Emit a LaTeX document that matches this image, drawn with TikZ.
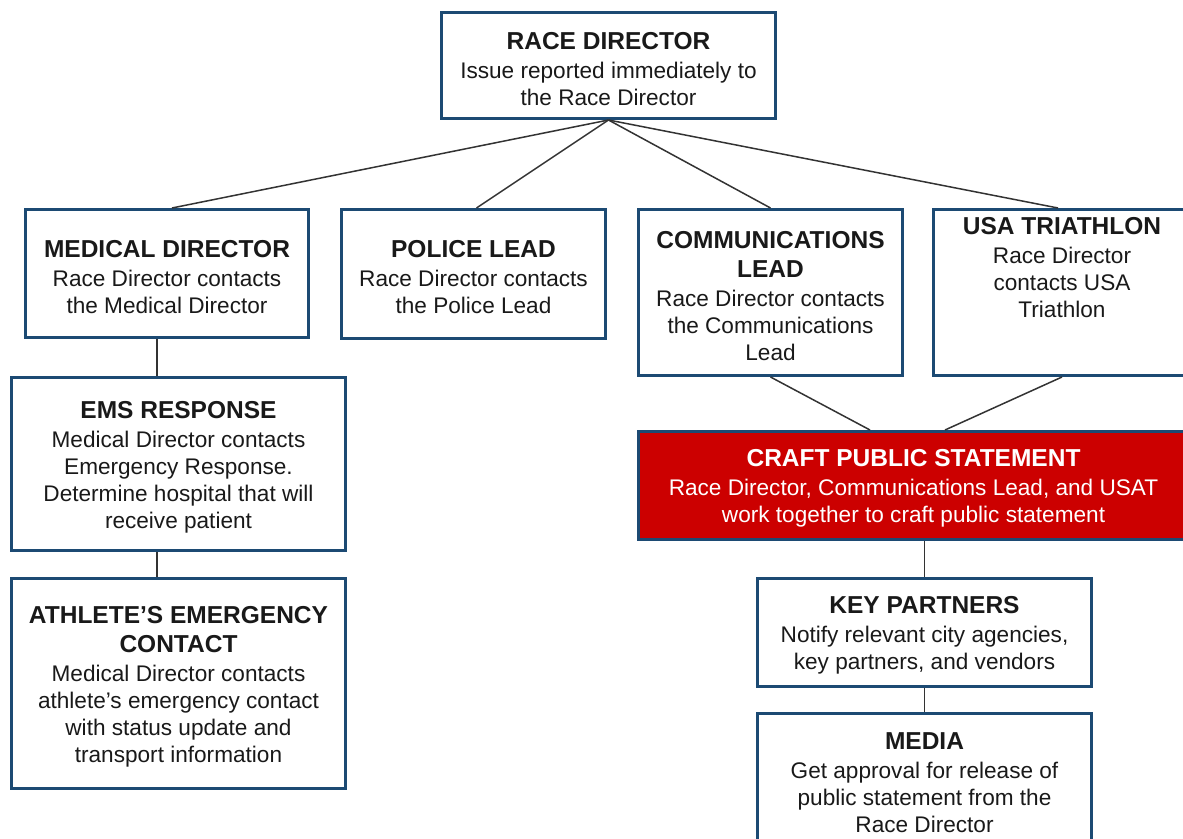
\documentclass[tikz,border=0pt]{standalone}
\usepackage{fontspec}
\setmainfont{Liberation Sans}
\definecolor{RBlue}{HTML}{1C4A73}
\definecolor{RRed}{HTML}{CC0000}
\definecolor{RLine}{HTML}{333333}
\newcommand{\boxtitle}[1]{{\bfseries\fontsize{24.5}{29}\selectfont\rule{0pt}{23.5pt}#1}}
\tikzset{
    block/.style = {draw=RBlue, line width=3pt, rectangle, align=center,
        inner sep=0pt, text=black!90,
        font=\fontsize{22.6}{27}\selectfont},
    redblock/.style = {block, fill=RRed, text=white},
    link/.style = {draw=RLine, line width=1.5pt}
}
\begin{document}
\begin{tikzpicture}[x=1pt,y=-1pt]
  \clip (0,0) rectangle (1183,838);
  \node[block, minimum width=334pt, minimum height=106pt] (rd) at (608.5,65.5)
    {\boxtitle{RACE DIRECTOR}\\[2pt] Issue reported immediately to\\ the Race Director};
  \node[block, minimum width=283pt, minimum height=128pt] (med) at (167,273.5)
    {\boxtitle{MEDICAL DIRECTOR}\\[2pt] Race Director contacts\\ the Medical Director};
  \node[block, minimum width=264pt, minimum height=129pt] (pol) at (473.5,274)
    {\boxtitle{POLICE LEAD}\\[2pt] Race Director contacts\\ the Police Lead};
  \node[block, minimum width=264pt, minimum height=166pt] (com) at (770.5,292.5)
    {\boxtitle{COMMUNICATIONS}\\[2pt] \boxtitle{LEAD}\\[2pt] Race Director contacts\\ the Communications\\ Lead};
  \node[block, minimum width=257pt, minimum height=166pt, text depth=57pt] (usa) at (1062,292.5)
    {\boxtitle{USA TRIATHLON}\\[2pt] Race Director\\ contacts USA\\ Triathlon};
  \node[block, minimum width=334pt, minimum height=173pt] (ems) at (178.5,464)
    {\boxtitle{EMS RESPONSE}\\[2pt] Medical Director contacts\\ Emergency Response.\\ Determine hospital that will\\ receive patient};
  \node[block, minimum width=334pt, minimum height=210pt] (ath) at (178.5,683.5)
    {\boxtitle{ATHLETE’S EMERGENCY}\\[2pt] \boxtitle{CONTACT}\\[2pt] Medical Director contacts\\ athlete’s emergency contact\\ with status update and\\ transport information};
  \node[redblock, minimum width=550pt, minimum height=108pt] (craft) at (913.5,485.5)
    {\boxtitle{CRAFT PUBLIC STATEMENT}\\[2pt] Race Director, Communications Lead, and USAT\\ work together to craft public statement};
  \node[block, minimum width=334pt, minimum height=108pt] (key) at (924.5,632.5)
    {\boxtitle{KEY PARTNERS}\\[2pt] Notify relevant city agencies,\\ key partners, and vendors};
  \node[block, minimum width=334pt, minimum height=131pt] (media) at (924.5,779)
    {\boxtitle{MEDIA}\\[2pt] Get approval for release of\\ public statement from the\\ Race Director};

  \draw[link] (rd.south) -- ([xshift=5pt]med.north);
  \draw[link] (rd.south) -- ([xshift=3pt]pol.north);
  \draw[link] (rd.south) -- (com.north);
  \draw[link] (rd.south) -- ([xshift=-4pt]usa.north);
  \draw[link] ([xshift=-10pt]med.south) -- ([xshift=-21.5pt]ems.north);
  \draw[link] ([xshift=-21.5pt]ems.south) -- ([xshift=-21.5pt]ath.north);
  \draw[link] (com.south) -- ([xshift=-43.5pt]craft.north);
  \draw[link] (usa.south) -- ([xshift=31.5pt]craft.north);
  \draw[link] (craft.south -| key.north) -- (key.north);
  \draw[link] (key.south) -- (media.north);
\end{tikzpicture}
\end{document}
